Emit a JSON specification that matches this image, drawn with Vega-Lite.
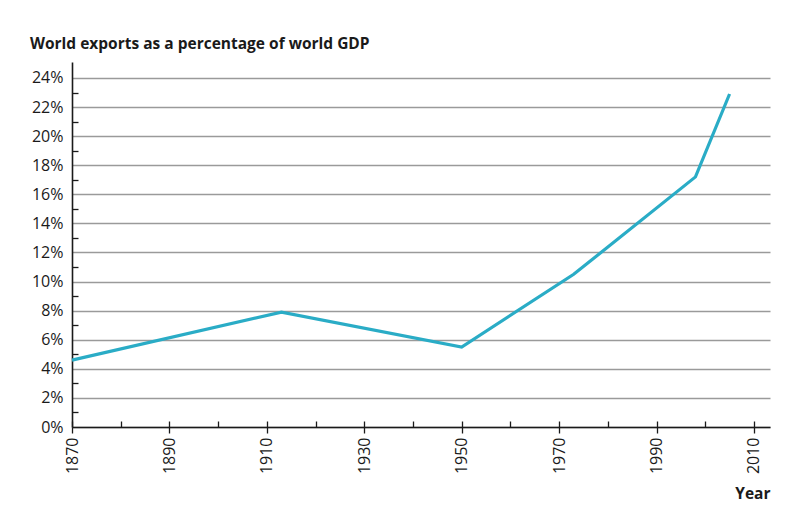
{
  "$schema": "https://vega.github.io/schema/vega-lite/v6.json",
  "autosize": {"type": "none"},
  "width": 698,
  "height": 365,
  "padding": {"left": 72, "top": 62, "right": 22, "bottom": 91},
  "background": "white",
  "config": {
    "font": "Open Sans",
    "view": {"stroke": null},
    "axis": {"labelFont": "Open Sans", "titleFont": "Open Sans"}
  },
  "title": {
    "text": "World exports as a percentage of world GDP",
    "anchor": "start",
    "frame": "group",
    "dx": -42,
    "dy": 14,
    "offset": 12,
    "baseline": "alphabetic",
    "fontSize": 15.5,
    "fontWeight": "bold",
    "color": "#1a1a1a"
  },
  "data": {
    "values": [
      {"year": 1870, "share": 4.6},
      {"year": 1913, "share": 7.9},
      {"year": 1950, "share": 5.5},
      {"year": 1973, "share": 10.5},
      {"year": 1998, "share": 17.2},
      {"year": 2005, "share": 22.9}
    ]
  },
  "resolve": {"axis": {"x": "independent", "y": "independent"}},
  "layer": [
    {
      "mark": {"type": "line", "strokeOpacity": 0},
      "encoding": {
        "x": {
          "field": "year", "type": "quantitative",
          "scale": {"domain": [1870, 2013.3], "nice": false, "zero": false},
          "axis": {
            "orient": "bottom",
            "values": [1870, 1890, 1910, 1930, 1950, 1970, 1990, 2010],
            "format": "d",
            "labelAngle": -90,
            "labelAlign": "right",
            "labelBaseline": "middle",
            "labelPadding": 4,
            "labelFontSize": 16,
            "labelColor": "#1a1a1a",
            "tickSize": 6,
            "tickColor": "#1a1a1a",
            "tickWidth": 1.3,
            "domainColor": "#1a1a1a",
            "domainWidth": 1.6,
            "grid": false,
            "title": "Year",
            "titleFontSize": 15.5,
            "titleFontWeight": "bold",
            "titleColor": "#1a1a1a",
            "titleAnchor": "end",
            "titleAlign": "right",
            "titleBaseline": "alphabetic",
            "titleX": 698,
            "titleY": 71
          }
        },
        "y": {
          "field": "share", "type": "quantitative",
          "scale": {"domain": [0, 25.1], "nice": false},
          "axis": {
            "orient": "left",
            "values": [0, 2, 4, 6, 8, 10, 12, 14, 16, 18, 20, 22, 24],
            "labelExpr": "datum.value + '%'",
            "labelFontSize": 16,
            "labelColor": "#1a1a1a",
            "labelPadding": 9,
            "ticks": false,
            "domainColor": "#1a1a1a",
            "domainWidth": 1.6,
            "grid": true,
            "gridColor": "#9a9a9a",
            "gridWidth": 1.5,
            "title": null
          }
        }
      }
    },
    {
      "mark": {"type": "line", "color": "#2aacc6", "strokeWidth": 3.2, "strokeJoin": "miter"},
      "encoding": {
        "x": {
          "field": "year", "type": "quantitative",
          "axis": {
            "orient": "bottom",
            "values": [1870, 1880, 1890, 1900, 1910, 1920, 1930, 1940, 1950, 1960, 1970, 1980, 1990, 2000, 2010],
            "labels": false,
            "domain": false,
            "grid": false,
            "tickSize": -6,
            "tickColor": "#1a1a1a",
            "tickWidth": 1.3,
            "title": null
          }
        },
        "y": {
          "field": "share", "type": "quantitative",
          "axis": {
            "orient": "left",
            "values": [1, 3, 5, 7, 9, 11, 13, 15, 17, 19, 21, 23],
            "labels": false,
            "domain": false,
            "grid": false,
            "tickSize": -6,
            "tickColor": "#1a1a1a",
            "tickWidth": 1.3,
            "title": null
          }
        }
      }
    }
  ]
}
